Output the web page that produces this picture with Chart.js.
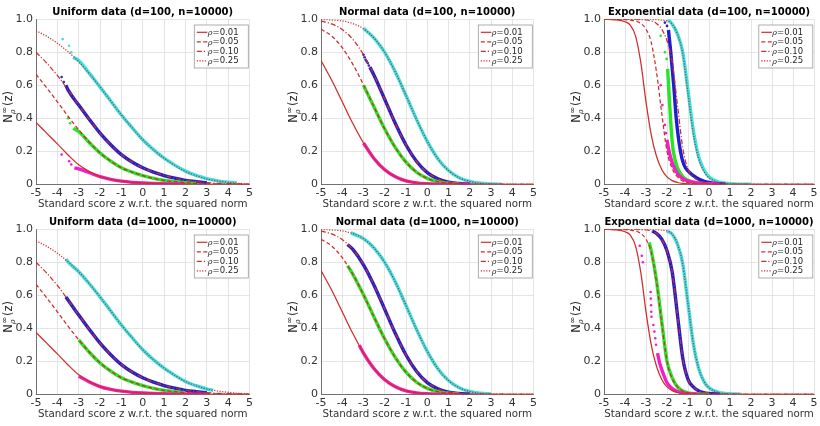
<!DOCTYPE html>
<html>
<head>
<meta charset="utf-8">
<script src="https://cdn.jsdelivr.net/npm/chart.js@4.4.1/dist/chart.umd.min.js"></script>
<style>
  body { margin: 0; background: #fff; width: 820px; height: 426px; overflow: hidden; position: relative; }
  canvas { position: absolute; }
</style>
</head>
<body>
<canvas id="uni100" width="270" height="212" style="left:0;top:0"></canvas>
<canvas id="norm100" width="260" height="212" style="left:285px;top:0"></canvas>
<canvas id="exp100" width="252" height="212" style="left:568px;top:0"></canvas>
<canvas id="uni1000" width="270" height="212" style="left:0;top:210px"></canvas>
<canvas id="norm1000" width="260" height="212" style="left:285px;top:210px"></canvas>
<canvas id="exp1000" width="252" height="212" style="left:568px;top:210px"></canvas>
<script>
// x grids for the red model curves
const zGrid = [-5, -4.5, -4, -3.5, -3, -2.5, -2, -1.5, -1, -0.5, 0, 0.5, 1, 1.5, 2, 2.5, 3, 3.5, 4, 4.5, 5];
const zGridExp = [-5, -4.5, -4, -3.75, -3.5, -3.25, -3, -2.75, -2.5, -2.25, -2, -1.75, -1.5, -1.25, -1, -0.75, -0.5, -0.25, 0, 0.5, 1, 1.5, 2, 3, 4, 5];

// Uniform model curves (rho = 0.01, 0.05, 0.10, 0.25)
const uniRho01 = [0.375, 0.31, 0.245, 0.178, 0.118, 0.077, 0.047, 0.03, 0.019, 0.012, 0.008, 0.005, 0.003, 0.002, 0.001, 0.001, 0, 0, 0, 0, 0];
const uniRho05 = [0.667, 0.585, 0.5, 0.413, 0.33, 0.255, 0.19, 0.14, 0.1, 0.074, 0.053, 0.036, 0.024, 0.016, 0.01, 0.006, 0.004, 0.002, 0.001, 0.001, 0];
const uniRho10 = [0.8, 0.735, 0.66, 0.572, 0.48, 0.393, 0.31, 0.24, 0.18, 0.135, 0.1, 0.074, 0.053, 0.037, 0.024, 0.016, 0.01, 0.006, 0.004, 0.002, 0.001];
const uniRho25 = [0.931, 0.897, 0.855, 0.803, 0.743, 0.67, 0.59, 0.505, 0.42, 0.343, 0.27, 0.21, 0.158, 0.115, 0.077, 0.052, 0.032, 0.02, 0.012, 0.006, 0.002];

// Normal model curves
const normRho01 = [0.75, 0.632, 0.5, 0.368, 0.25, 0.155, 0.088, 0.046, 0.021, 0.009, 0.0035, 0.0012, 0.0004, 0, 0, 0, 0, 0, 0, 0, 0];
const normRho05 = [0.94, 0.899, 0.828, 0.727, 0.603, 0.467, 0.335, 0.222, 0.134, 0.073, 0.036, 0.016, 0.0066, 0.0025, 0.001, 0, 0, 0, 0, 0, 0];
const normRho10 = [0.989, 0.972, 0.938, 0.878, 0.785, 0.66, 0.515, 0.368, 0.238, 0.138, 0.071, 0.033, 0.013, 0.005, 0.0015, 0.0004, 0, 0, 0, 0, 0];
const normRho25 = [0.999, 0.996, 0.99, 0.974, 0.943, 0.886, 0.799, 0.68, 0.538, 0.392, 0.26, 0.155, 0.083, 0.04, 0.017, 0.006, 0.002, 0.0006, 0, 0, 0];

// Exponential model curves (on zGridExp)
const expRho01 = [1, 0.997, 0.985, 0.965, 0.9, 0.74, 0.5, 0.3, 0.17, 0.09, 0.045, 0.022, 0.011, 0.005, 0.002, 0.001, 0, 0, 0, 0, 0, 0, 0, 0, 0, 0];
const expRho05 = [1, 1, 0.998, 0.995, 0.99, 0.975, 0.94, 0.86, 0.68, 0.43, 0.2, 0.095, 0.045, 0.02, 0.009, 0.004, 0.002, 0.001, 0, 0, 0, 0, 0, 0, 0, 0];
const expRho10 = [1, 1, 1, 1, 0.999, 0.998, 0.996, 0.99, 0.975, 0.94, 0.87, 0.74, 0.48, 0.22, 0.09, 0.045, 0.022, 0.01, 0.005, 0.001, 0, 0, 0, 0, 0, 0];
const expRho25 = [1, 1, 1, 1, 1, 1, 1, 0.999, 0.998, 0.995, 0.99, 0.97, 0.91, 0.79, 0.55, 0.31, 0.16, 0.08, 0.04, 0.01, 0.003, 0.001, 0, 0, 0, 0];

// Empirical points [z, N] - magenta / green / blue / cyan
const uni100Mag = [[-3.2, 0.1], [-3, 0.093], [-2.5, 0.07], [-2, 0.046], [-1.5, 0.03], [-1, 0.019], [-0.5, 0.012], [0, 0.008], [1, 0.003], [2, 0.001]];
const uni100Green = [[-3.25, 0.34], [-3, 0.32], [-2.5, 0.252], [-2, 0.19], [-1.5, 0.14], [-1, 0.1], [-0.5, 0.074], [0, 0.053], [0.5, 0.036], [1, 0.024], [1.5, 0.016], [2, 0.01], [2.5, 0.006]];
const uni100Blue = [[-3.6, 0.6], [-3.5, 0.572], [-3, 0.48], [-2.5, 0.393], [-2, 0.31], [-1.5, 0.24], [-1, 0.18], [-0.5, 0.135], [0, 0.1], [0.5, 0.074], [1, 0.053], [1.5, 0.037], [2, 0.024], [2.5, 0.016], [3, 0.01]];
const uni100Cyan = [[-3.25, 0.77], [-3, 0.75], [-2.5, 0.672], [-2, 0.59], [-1.5, 0.505], [-1, 0.42], [-0.5, 0.343], [0, 0.27], [0.5, 0.21], [1, 0.158], [1.5, 0.116], [2, 0.08], [2.5, 0.054], [3, 0.034], [3.5, 0.021], [4, 0.013], [4.4, 0.009]];
const uni100MagStray = [[-3.8, 0.18], [-3.45, 0.14], [-3.35, 0.12]];
const uni100GreenStray = [[-3.5, 0.4], [-3.4, 0.37]];
const uni100BlueStray = [[-3.8, 0.65], [-3.7, 0.62]];
const uni100CyanStray = [[-3.75, 0.88], [-3.45, 0.84], [-3.35, 0.8]];

const uni1000Mag = [[-3, 0.11], [-2.5, 0.075], [-2, 0.047], [-1.5, 0.03], [-1, 0.019], [-0.5, 0.012], [0, 0.008], [1, 0.003], [2, 0.001], [3, 0]];
const uni1000Green = [[-3, 0.33], [-2.5, 0.255], [-2, 0.19], [-1.5, 0.14], [-1, 0.1], [-0.5, 0.074], [0, 0.053], [0.5, 0.036], [1, 0.024], [1.5, 0.016], [2, 0.01]];
const uni1000Blue = [[-3.6, 0.59], [-3.5, 0.572], [-3, 0.48], [-2.5, 0.393], [-2, 0.31], [-1.5, 0.24], [-1, 0.18], [-0.5, 0.135], [0, 0.1], [0.5, 0.074], [1, 0.053], [1.5, 0.037], [2, 0.024], [2.5, 0.016], [3, 0.01]];
const uni1000Cyan = [[-3.6, 0.82], [-3.5, 0.803], [-3, 0.743], [-2.5, 0.67], [-2, 0.59], [-1.5, 0.505], [-1, 0.42], [-0.5, 0.343], [0, 0.27], [0.5, 0.21], [1, 0.158], [1.5, 0.115], [2, 0.077], [2.5, 0.052], [3, 0.032], [3.3, 0.024]];

const norm100Mag = [[-3, 0.25], [-2.5, 0.155], [-2, 0.088], [-1.5, 0.046], [-1, 0.021], [-0.5, 0.009], [0, 0.0035], [0.5, 0.001], [1, 0], [2, 0]];
const norm100Green = [[-3, 0.6], [-2.5, 0.467], [-2, 0.335], [-1.5, 0.222], [-1, 0.134], [-0.5, 0.073], [0, 0.036], [0.5, 0.016], [1, 0.007], [1.5, 0.002]];
const norm100Blue = [[-2.7, 0.71], [-2.5, 0.66], [-2, 0.515], [-1.5, 0.368], [-1, 0.238], [-0.5, 0.138], [0, 0.071], [0.5, 0.033], [1, 0.013], [1.5, 0.005], [2, 0.0015]];
const norm100Cyan = [[-3, 0.945], [-2.5, 0.886], [-2, 0.799], [-1.5, 0.68], [-1, 0.538], [-0.5, 0.392], [0, 0.26], [0.5, 0.155], [1, 0.083], [1.5, 0.04], [2, 0.017], [2.5, 0.006], [3, 0.002], [3.5, 0.001]];
const norm100BlueStray = [[-3, 0.785], [-2.95, 0.77], [-2.9, 0.755], [-2.85, 0.745], [-2.8, 0.735], [-2.75, 0.72]];

const norm1000Mag = [[-3.2, 0.297], [-3, 0.25], [-2.5, 0.155], [-2, 0.088], [-1.5, 0.046], [-1, 0.021], [-0.5, 0.009], [0, 0.0035], [0.5, 0.001], [1.5, 0]];
const norm1000Green = [[-3.75, 0.78], [-3.5, 0.727], [-3, 0.603], [-2.5, 0.467], [-2, 0.335], [-1.5, 0.222], [-1, 0.134], [-0.5, 0.073], [0, 0.036], [0.5, 0.016], [1, 0.007], [1.5, 0.002]];
const norm1000Blue = [[-3.75, 0.908], [-3.5, 0.878], [-3, 0.785], [-2.5, 0.66], [-2, 0.515], [-1.5, 0.368], [-1, 0.238], [-0.5, 0.138], [0, 0.071], [0.5, 0.033], [1, 0.013], [1.5, 0.005], [2, 0.0015]];
const norm1000Cyan = [[-3.6, 0.98], [-3.5, 0.974], [-3, 0.943], [-2.5, 0.886], [-2, 0.799], [-1.5, 0.68], [-1, 0.538], [-0.5, 0.392], [0, 0.26], [0.5, 0.155], [1, 0.083], [1.5, 0.04], [2, 0.017], [2.5, 0.006], [3, 0.002]];

const exp100Mag = [[-2, 0.27], [-1.9, 0.2], [-1.75, 0.13], [-1.5, 0.065], [-1.25, 0.035], [-1, 0.02], [-0.5, 0.007], [0, 0.003], [0.5, 0.001]];
const exp100Green = [[-1.97, 0.7], [-1.88, 0.5], [-1.78, 0.3], [-1.7, 0.2], [-1.5, 0.1], [-1.2, 0.04], [-0.8, 0.015], [-0.3, 0.005], [0.2, 0.001]];
const exp100Blue = [[-1.93, 0.935], [-1.82, 0.8], [-1.68, 0.6], [-1.56, 0.4], [-1.36, 0.2], [-1.2, 0.12], [-0.97, 0.077], [-0.6, 0.04], [-0.19, 0.016], [0.3, 0.005], [0.8, 0.001]];
const exp100Cyan = [[-1.95, 1], [-1.75, 0.97], [-1.5, 0.91], [-1.25, 0.8], [-1, 0.57], [-0.75, 0.33], [-0.5, 0.17], [-0.25, 0.09], [0, 0.045], [0.5, 0.013], [1, 0.004], [1.5, 0.001], [2, 0]];
const exp100MagStray = [[-2.3, 0.6], [-2.22, 0.48], [-2.1, 0.36], [-2.05, 0.31]];
const exp100GreenStray = [[-2.3, 0.9], [-2.1, 0.8], [-2.02, 0.76]];
const exp100BlueStray = [[-2.1, 0.98], [-2.0, 0.96]];

const exp1000Mag = [[-2.45, 0.25], [-2.35, 0.19], [-2.25, 0.15], [-2, 0.07], [-1.75, 0.035], [-1.5, 0.017], [-1.25, 0.008], [-1, 0.004], [-0.5, 0.001]];
const exp1000Green = [[-2.85, 0.92], [-2.75, 0.87], [-2.5, 0.69], [-2.25, 0.44], [-2, 0.2], [-1.75, 0.1], [-1.5, 0.045], [-1.25, 0.02], [-1, 0.009], [-0.5, 0.002], [0, 0]];
const exp1000Blue = [[-2.7, 0.99], [-2.5, 0.975], [-2.25, 0.94], [-2, 0.87], [-1.75, 0.74], [-1.5, 0.48], [-1.25, 0.22], [-1, 0.09], [-0.75, 0.045], [-0.5, 0.022], [-0.25, 0.01], [0, 0.005], [0.5, 0.001]];
const exp1000Cyan = [[-2, 0.99], [-1.75, 0.97], [-1.5, 0.91], [-1.25, 0.79], [-1, 0.55], [-0.75, 0.31], [-0.5, 0.16], [-0.25, 0.08], [0, 0.04], [0.5, 0.01], [1, 0.003], [1.5, 0.001]];
const exp1000MagStray = [[-3.3, 0.9], [-3.2, 0.84], [-3.15, 0.8], [-2.78, 0.62], [-2.77, 0.58], [-2.76, 0.54], [-2.75, 0.5], [-2.74, 0.47],
    [-2.65, 0.42], [-2.6, 0.38], [-2.56, 0.34], [-2.52, 0.3]];

const rhoLabels = ['=0.01', '=0.05', '=0.10', '=0.25'];
const xTicks = [-5, 5];
const yTicks = [0, 1];

// styles
const redColor = '#cf2c2c';
const curveDashes = [[], [4, 2.5], [5, 2, 1.2, 2], [1.2, 1.5]];
const bandColors = ['#f01fc6', '#25e625', '#1f1fcf', '#30e6e6'];
const FONT = 'DejaVu Sans';

// panel title centred over the axes
const panelTitlePlugin = {
    id: 'panelTitle',
    afterDraw(chart, args, opts) {
        const ctx = chart.ctx;
        const a = chart.chartArea;
        ctx.save();
        ctx.fillStyle = '#000';
        ctx.font = 'bold 10px ' + FONT;
        ctx.textAlign = 'center';
        ctx.textBaseline = 'middle';
        ctx.fillText(opts.text, (a.left + a.right) / 2, a.top - 7);
        ctx.restore();
    }
};

// y axis label  N^inf_rho(z)
const yLabelPlugin = {
    id: 'yLabel',
    afterDraw(chart) {
        const ctx = chart.ctx;
        const a = chart.chartArea;
        ctx.save();
        ctx.translate(a.left - 27, (a.top + a.bottom) / 2 + 4);
        ctx.rotate(-Math.PI / 2);
        ctx.fillStyle = '#262626';
        ctx.textBaseline = 'middle';
        ctx.font = '11.5px ' + FONT;
        const wN = ctx.measureText('N').width;
        ctx.font = '8.5px ' + FONT;
        const wInf = ctx.measureText('\u221E').width;
        let x = -(wN + wInf + 1 + 17) / 2;
        ctx.font = '11.5px ' + FONT;
        ctx.fillText('N', x, 0);
        x += wN;
        ctx.font = '8.5px ' + FONT;
        ctx.fillText('\u221E', x, -4.5);
        ctx.font = 'italic 7.5px DejaVu Serif';
        ctx.fillText('\u03C1', x, 4.5);
        x += wInf + 1;
        ctx.font = '11.5px ' + FONT;
        ctx.fillText('(z)', x, 0);
        ctx.restore();
    }
};

// MATLAB style legend box inside the axes
const rhoLegendPlugin = {
    id: 'rhoLegend',
    afterDraw(chart) {
        const ctx = chart.ctx;
        const a = chart.chartArea;
        const w = 54, h = 43;
        const x0 = a.right - w - 1.2, y0 = a.top + 5.7;
        ctx.save();
        ctx.fillStyle = '#fff';
        ctx.fillRect(x0, y0, w, h);
        ctx.strokeStyle = '#9a9a9a';
        ctx.lineWidth = 0.8;
        ctx.strokeRect(x0, y0, w, h);
        rhoLabels.forEach((lab, i) => {
            const y = y0 + 7.3 + i * 9.5;
            ctx.strokeStyle = redColor;
            ctx.lineWidth = 1.2;
            ctx.setLineDash(curveDashes[i]);
            ctx.beginPath();
            ctx.moveTo(x0 + 2.5, y);
            ctx.lineTo(x0 + 13, y);
            ctx.stroke();
            ctx.setLineDash([]);
            ctx.fillStyle = '#262626';
            ctx.textBaseline = 'middle';
            ctx.font = 'italic 8px DejaVu Serif';
            ctx.fillText('\u03C1', x0 + 13.5, y + 1);
            const wr = ctx.measureText('\u03C1').width;
            ctx.font = '8.5px ' + FONT;
            ctx.fillText(lab, x0 + 13.5 + wr, y);
        });
        ctx.restore();
    }
};

function makePanel(id, title, grid, curves, bands, strays, rightPad) {
    const datasets = [];
    curves.forEach((vals, k) => {
        datasets.push({
            data: grid.map((z, i) => ({ x: z, y: vals[i] })),
            borderColor: redColor,
            borderWidth: 1.25,
            borderDash: curveDashes[k],
            pointRadius: 0,
            cubicInterpolationMode: 'monotone',
            order: 0
        });
    });
    bands.forEach((pts, k) => {
        datasets.push({
            data: pts.map(p => ({ x: p[0], y: p[1] })),
            borderColor: bandColors[k],
            borderWidth: 3.4,
            pointRadius: 0,
            cubicInterpolationMode: 'monotone',
            order: 1
        });
    });
    strays.forEach((pts, k) => {
        if (!pts) return;
        datasets.push({
            data: pts.map(p => ({ x: p[0], y: p[1] })),
            showLine: false,
            pointRadius: 1.3,
            pointBorderWidth: 0,
            pointBackgroundColor: bandColors[k],
            order: 2
        });
    });

    return new Chart(document.getElementById(id), {
        type: 'line',
        data: { datasets },
        plugins: [panelTitlePlugin, yLabelPlugin, rhoLegendPlugin],
        options: {
            responsive: false,
            animation: false,
            events: [],
            layout: { padding: { left: 0, right: rightPad, top: 19.3, bottom: 0 } },
            plugins: {
                legend: { display: false },
                tooltip: { enabled: false },
                title: { display: false },
                panelTitle: { text: title }
            },
            scales: {
                x: {
                    type: 'linear',
                    min: xTicks[0],
                    max: xTicks[1],
                    afterFit: s => { s.height = 27.7; },
                    grid: { color: '#dedede', lineWidth: 0.8, drawTicks: false },
                    border: { display: true, color: '#555', width: 0.8 },
                    ticks: { stepSize: 1, autoSkip: false, maxRotation: 0, padding: 2.5, color: '#333', font: { family: FONT, size: 11 } },
                    title: {
                        display: true,
                        text: 'Standard score z w.r.t. the squared norm',
                        color: '#333',
                        font: { family: FONT, size: 10.3 },
                        padding: { top: 2, bottom: 1 }
                    }
                },
                y: {
                    min: yTicks[0],
                    max: yTicks[1],
                    afterFit: s => { s.width = 36; },
                    grid: { color: '#dedede', lineWidth: 0.8, drawTicks: false },
                    border: { display: true, color: '#555', width: 0.8 },
                    ticks: { stepSize: 0.2, padding: 3, color: '#333', font: { family: FONT, size: 11 } }
                }
            }
        }
    });
}

makePanel('uni100', 'Uniform data (d=100, n=10000)', zGrid,
    [uniRho01, uniRho05, uniRho10, uniRho25],
    [uni100Mag, uni100Green, uni100Blue, uni100Cyan],
    [uni100MagStray, uni100GreenStray, uni100BlueStray, uni100CyanStray], 20.5);
makePanel('norm100', 'Normal data (d=100, n=10000)', zGrid,
    [normRho01, normRho05, normRho10, normRho25],
    [norm100Mag, norm100Green, norm100Blue, norm100Cyan],
    [null, null, norm100BlueStray], 11.5);
makePanel('exp100', 'Exponential data (d=100, n=10000)', zGridExp,
    [expRho01, expRho05, expRho10, expRho25],
    [exp100Mag, exp100Green, exp100Blue, exp100Cyan],
    [exp100MagStray, exp100GreenStray, exp100BlueStray], 3);
makePanel('uni1000', 'Uniform data (d=1000, n=10000)', zGrid,
    [uniRho01, uniRho05, uniRho10, uniRho25],
    [uni1000Mag, uni1000Green, uni1000Blue, uni1000Cyan], [], 20.5);
makePanel('norm1000', 'Normal data (d=1000, n=10000)', zGrid,
    [normRho01, normRho05, normRho10, normRho25],
    [norm1000Mag, norm1000Green, norm1000Blue, norm1000Cyan], [], 11.5);
makePanel('exp1000', 'Exponential data (d=1000, n=10000)', zGridExp,
    [expRho01, expRho05, expRho10, expRho25],
    [exp1000Mag, exp1000Green, exp1000Blue, exp1000Cyan],
    [exp1000MagStray], 3);
</script>
</body>
</html>
